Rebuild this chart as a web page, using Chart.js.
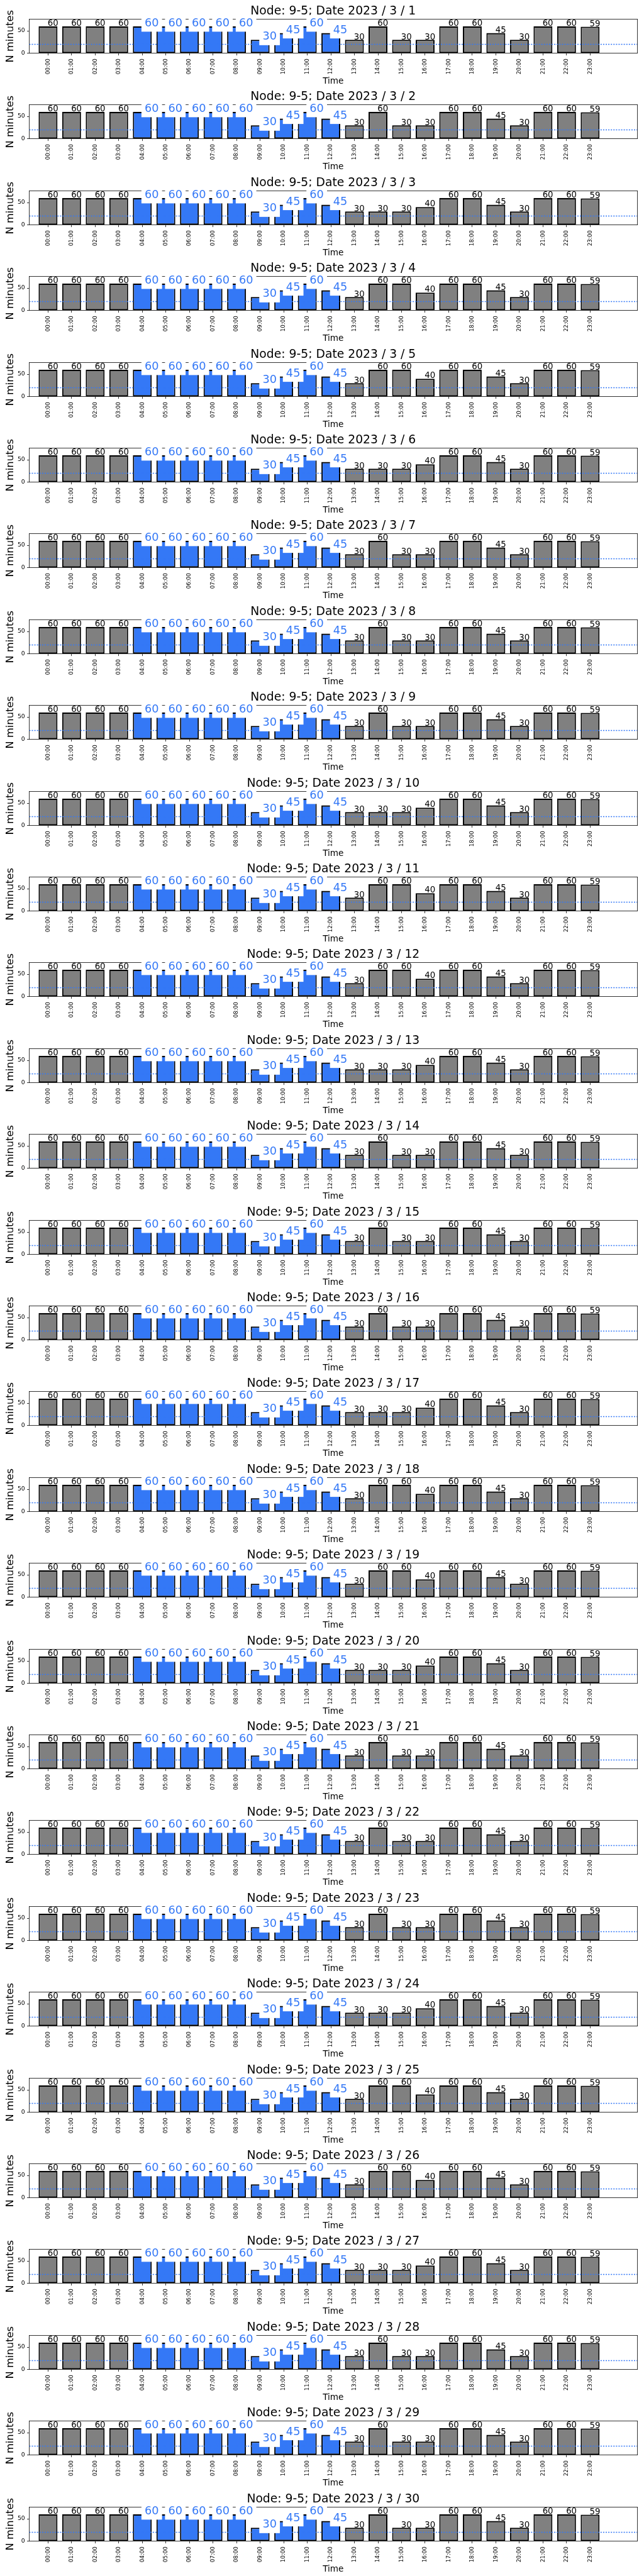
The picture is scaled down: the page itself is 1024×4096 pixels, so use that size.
<!DOCTYPE html>
<html>
<head>
<meta charset="utf-8">
<title>Node 9-5 — minutes per hour, March 2023</title>
<script src="https://cdn.jsdelivr.net/npm/chart.js@4.4.1/dist/chart.umd.min.js"></script>
<style>
  html, body { margin: 0; padding: 0; background: #fff; }
  #charts { position: relative; width: 1024px; height: 4096px; }
  .panel { position: absolute; left: 0; width: 1024px; height: 137px; }
</style>
</head>
<body>
<div id="charts"></div>
<script>
// ---------------------------------------------------------------------------
// Data
// ---------------------------------------------------------------------------
const NODE = "9-5";
const YEAR = 2023;
const MONTH = 3;
const days = [1, 2, 3, 4, 5, 6, 7, 8, 9, 10, 11, 12, 13, 14, 15,
              16, 17, 18, 19, 20, 21, 22, 23, 24, 25, 26, 27, 28, 29, 30];

const hourLabels = ["00:00", "01:00", "02:00", "03:00", "04:00", "05:00", "06:00", "07:00",
                    "08:00", "09:00", "10:00", "11:00", "12:00", "13:00", "14:00", "15:00",
                    "16:00", "17:00", "18:00", "19:00", "20:00", "21:00", "22:00", "23:00"];

// minutes per hour that repeat every day; 14:00-16:00 (null) differ per day
const dailyMinutes = [60, 60, 60, 60, 60, 60, 60, 60, 60, 30, 45, 60,
                      45, 30, null, null, null, 60, 60, 45, 30, 60, 60, 59];

// per-day values for the hours that change
const minutes1400 = [60, 60, 30, 60, 60, 30, 60, 60, 60, 30, 60, 60, 30, 60, 60,
                     60, 30, 60, 60, 30, 60, 60, 60, 30, 60, 60, 30, 60, 60, 60];
const minutes1500 = [30, 30, 30, 60, 60, 30, 30, 30, 30, 30, 60, 60, 30, 30, 30,
                     30, 30, 60, 60, 30, 30, 30, 30, 30, 60, 60, 30, 30, 30, 30];
const minutes1600 = [30, 30, 40, 40, 40, 40, 30, 30, 30, 40, 40, 40, 40, 30, 30,
                     30, 40, 40, 40, 40, 30, 30, 30, 40, 40, 40, 40, 30, 30, 30];

// hours drawn in blue with the boxed labels
const highlightHours = ["04:00", "05:00", "06:00", "07:00", "08:00",
                        "09:00", "10:00", "11:00", "12:00"];

const thresholdMinutes = 20;   // dotted reference line
const yTicks = [0, 50];

// ---------------------------------------------------------------------------
// Look
// ---------------------------------------------------------------------------
const S = 0.682;                 // reference px -> page px
const BLUE = "#3478f6";
const GRAY = "#808080";
const FONT = '"DejaVu Sans", sans-serif';

const PANEL_STEP = 200 * S;
const CANVAS_H = 137;
const AREA_TOP = 45 * S;
const AREA_BOTTOM = 124.3 * S;
const AREA_LEFT = 68 * S;
const AREA_RIGHT = 1485.7 * S;

const X_MIN = -0.8;
const X_MAX = 25;
const Y_MAX = 75.6;

Chart.defaults.font.family = FONT;
Chart.defaults.color = "#000";

// value labels on top of bars (boxed + blue for highlighted hours)
const valueLabels = {
  id: "valueLabels",
  afterDatasetsDraw(chart) {
    const ctx = chart.ctx;
    const meta = chart.getDatasetMeta(0);
    const vals = chart.data.datasets[0].data;
    ctx.save();
    ctx.textAlign = "left";
    ctx.textBaseline = "alphabetic";
    meta.data.forEach((bar, i) => {
      const txt = String(vals[i].y);
      if (highlightHours.includes(hourLabels[i])) {
        ctx.font = (26 * S).toFixed(2) + "px " + FONT;
        const w = ctx.measureText(txt).width;
        const tx = bar.x + 5.5 * S;
        const ty = bar.y;
        const pad = 7.5 * S;
        const top = ty - (19 + 7.5) * S;
        ctx.fillStyle = "#fff";
        ctx.fillRect(tx - pad, top, w + 2 * pad, ty + 12.5 * S - top);
        ctx.fillStyle = BLUE;
        ctx.fillText(txt, tx, ty);
      } else {
        ctx.font = (19.5 * S).toFixed(2) + "px " + FONT;
        ctx.fillStyle = "#000";
        ctx.fillText(txt, bar.x - 1 * S, bar.y - 0.7);
      }
    });
    ctx.restore();
  },
};

function buildDay(k) {
  const mins = dailyMinutes.slice();
  mins[hourLabels.indexOf("14:00")] = minutes1400[k];
  mins[hourLabels.indexOf("15:00")] = minutes1500[k];
  mins[hourLabels.indexOf("16:00")] = minutes1600[k];
  return mins;
}

function makePanel(k) {
  const holder = document.createElement("div");
  holder.className = "panel";
  holder.style.top = Math.round(k * PANEL_STEP) + "px";
  const canvas = document.createElement("canvas");
  holder.appendChild(canvas);
  document.getElementById("charts").appendChild(holder);

  const mins = buildDay(k);
  const barData = hourLabels.map((h, i) => ({ x: i, y: mins[i] }));
  const colours = hourLabels.map((h) => (highlightHours.includes(h) ? BLUE : GRAY));

  new Chart(canvas, {
    data: {
      datasets: [
        {
          type: "bar",
          data: barData,
          backgroundColor: colours,
          borderColor: "#000",
          borderWidth: 3 * S,
          borderSkipped: false,
          barPercentage: 1.0,
          categoryPercentage: 0.8,
          order: 1,
          xAxisID: "x",
          yAxisID: "y",
        },
        {
          type: "line",
          data: [{ x: X_MIN, y: thresholdMinutes }, { x: X_MAX, y: thresholdMinutes }],
          borderColor: BLUE,
          borderWidth: 2 * S,
          borderDash: [3 * S, 3 * S],
          pointRadius: 0,
          order: 0,
          xAxisID: "x",
          yAxisID: "y",
        },
      ],
    },
    options: {
      responsive: true,
      maintainAspectRatio: false,
      animation: false,
      events: [],
      layout: { padding: 0 },
      plugins: {
        legend: { display: false },
        tooltip: { enabled: false },
        title: {
          display: true,
          fullSize: false,
          text: `Node: ${NODE}; Date ${YEAR} / ${MONTH} / ${days[k]}`,
          color: "#000",
          font: { size: 27.5 * S, weight: "normal", lineHeight: 1.2 },
          padding: { top: 7.3, bottom: AREA_TOP - 27.5 * S * 1.2 - 7.3 },
        },
      },
      scales: {
        x: {
          type: "linear",
          position: "bottom",
          offset: false,
          min: X_MIN,
          max: X_MAX,
          afterBuildTicks: (s) => { s.ticks = hourLabels.map((h, i) => ({ value: i })); },
          afterFit: (s) => { s.height = CANVAS_H - AREA_BOTTOM; },
          ticks: {
            autoSkip: false,
            minRotation: 90,
            maxRotation: 90,
            padding: 5,
            font: { size: 12.85 * S },
            callback: (v) => hourLabels[v],
          },
          grid: { display: true, offset: false, drawOnChartArea: false, drawTicks: true, tickLength: 4.9 * S, color: "#000", lineWidth: 0.8 },
          border: { display: true, color: "#000", width: 0.8 },
          title: {
            display: true,
            text: "Time",
            font: { size: 20 * S, lineHeight: 1 },
            padding: { top: 0, bottom: 0.8 },
          },
        },
        xTop: {
          type: "linear",
          position: "top",
          display: true,
          offset: false,
          min: X_MIN,
          max: X_MAX,
          afterFit: (s) => { s.height = 0; },
          ticks: { display: false },
          grid: { display: false },
          border: { display: true, color: "#000", width: 0.8 },
        },
        y: {
          type: "linear",
          position: "left",
          min: 0,
          max: Y_MAX,
          afterBuildTicks: (s) => { s.ticks = yTicks.map((v) => ({ value: v })); },
          afterFit: (s) => { s.width = AREA_LEFT; },
          ticks: { padding: 4.9 * S, font: { size: 13.6 * S } },
          grid: { display: true, drawOnChartArea: false, drawTicks: true, tickLength: 4.9 * S, color: "#000", lineWidth: 0.8 },
          border: { display: true, color: "#000", width: 0.8 },
          title: {
            display: true,
            text: "N minutes",
            font: { size: 24 * S, lineHeight: 1 },
            padding: { top: 8.85, bottom: 0 },
          },
        },
        yRight: {
          type: "linear",
          position: "right",
          display: true,
          min: 0,
          max: Y_MAX,
          afterFit: (s) => { s.width = 1024 - AREA_RIGHT; },
          ticks: { display: false },
          grid: { display: false },
          border: { display: true, color: "#000", width: 0.8 },
        },
      },
    },
    plugins: [valueLabels],
  });
}

days.forEach((d, k) => makePanel(k));
</script>
</body>
</html>
